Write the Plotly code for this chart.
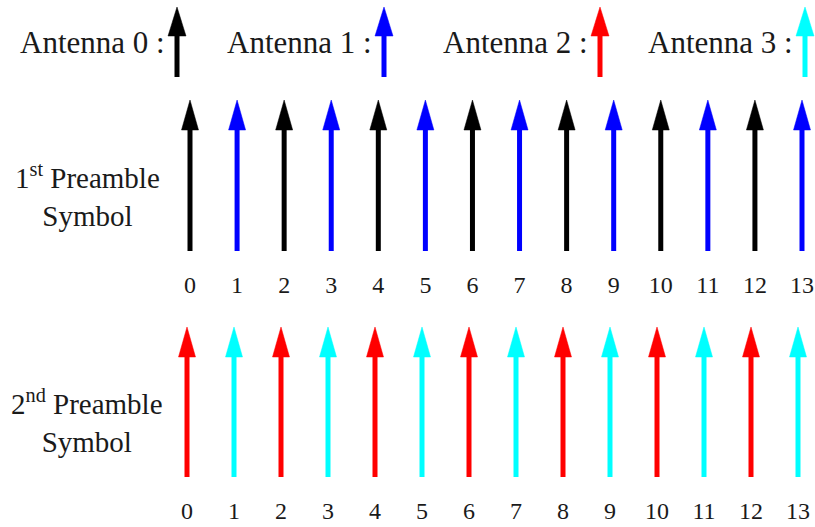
import plotly.graph_objects as go

# ---- data ----
subcarriers = list(range(14))
row1_antennas = [0, 1, 0, 1, 0, 1, 0, 1, 0, 1, 0, 1, 0, 1]
row2_antennas = [2, 3, 2, 3, 2, 3, 2, 3, 2, 3, 2, 3, 2, 3]
amplitude = [1.0] * 14
antenna_names = ["Antenna 0 :", "Antenna 1 :", "Antenna 2 :", "Antenna 3 :"]
antenna_colors = ["#000000", "#0000FF", "#FF0000", "#00FFFF"]
row_labels = ["1<sup>st</sup> Preamble<br>Symbol", "2<sup>nd</sup> Preamble<br>Symbol"]

W, H = 815, 527
FONT = "Liberation Serif"
TXT = "#1a1a1a"

# pixel layout of each row (style only)
rows = [
    dict(x0=190, x13=802, base=251, length=151, ax="x", ay="y"),
    dict(x0=187, x13=798, base=477, length=150, ax="x2", ay="y2"),
]

fig = go.Figure()
layout_axes = {}
HEAD_LEN_PX = 30
HEAD_HALF_PX = 8.5

for r, (row, ants) in enumerate(zip(rows, [row1_antennas, row2_antennas])):
    s = (row["x13"] - row["x0"]) / 13.0
    xl = -row["x0"] / s
    xr = xl + W / s
    yl = (row["base"] - H) / row["length"]
    yh = row["base"] / row["length"]
    xname = "xaxis" if r == 0 else "xaxis2"
    yname = "yaxis" if r == 0 else "yaxis2"
    xa = dict(range=[xl, xr], visible=False, fixedrange=True)
    ya = dict(range=[yl, yh], visible=False, fixedrange=True)
    if r == 1:
        xa["overlaying"] = "x"
        ya["overlaying"] = "y"
        ya["anchor"] = "x2"
        xa["anchor"] = "y2"
    layout_axes[xname] = xa
    layout_axes[yname] = ya

    head_len = HEAD_LEN_PX / row["length"]
    head_half = HEAD_HALF_PX / s
    for ant in sorted(set(ants)):
        col = antenna_colors[ant]
        sx, sy, hx, hy = [], [], [], []
        for i, a, amp in zip(subcarriers, ants, amplitude):
            if a != ant:
                continue
            sx += [i, i, None]
            sy += [0, amp - head_len + 0.01, None]
            hx += [i - head_half, i + head_half, i, i - head_half, None]
            hy += [amp - head_len, amp - head_len, amp, amp - head_len, None]
        fig.add_trace(go.Scatter(x=sx, y=sy, xaxis=row["ax"], yaxis=row["ay"], mode="lines",
                                 line=dict(color=col, width=5), hoverinfo="skip", showlegend=False))
        fig.add_trace(go.Scatter(x=hx, y=hy, xaxis=row["ax"], yaxis=row["ay"], mode="lines",
                                 fill="toself", fillcolor=col, line=dict(color=col, width=0.5),
                                 hoverinfo="skip", showlegend=False))
    # index labels
    lab_y = -36 / row["length"]
    fig.add_trace(go.Scatter(x=subcarriers, y=[lab_y] * 14, xaxis=row["ax"], yaxis=row["ay"],
                             mode="text", text=[str(i) for i in subcarriers],
                             textfont=dict(family=FONT, size=24, color=TXT), cliponaxis=False,
                             hoverinfo="skip", showlegend=False))

annotations = []
shapes = []
# legend
legend_arrow_px = [177, 384, 600, 805]
for name, col, xp in zip(antenna_names, antenna_colors, legend_arrow_px):
    annotations.append(dict(text=name, x=(xp - 10) / W, y=1 - 42 / H, xref="paper", yref="paper",
                            xanchor="right", yanchor="middle", showarrow=False,
                            font=dict(family=FONT, size=31, color=TXT)))
    shapes.append(dict(type="line", xref="paper", yref="paper",
                       x0=xp / W, x1=xp / W, y0=1 - 77 / H, y1=1 - 34 / H,
                       line=dict(color=col, width=5)))
    shapes.append(dict(type="path", xref="paper", yref="paper",
                       path=f"M {(xp-9)/W} {1-36/H} L {(xp+9)/W} {1-36/H} L {xp/W} {1-7/H} Z",
                       fillcolor=col, line=dict(color=col, width=0.5)))

# row labels
for lab, yc in zip(row_labels, [195, 421]):
    annotations.append(dict(text=lab, x=87 / W, y=1 - yc / H, xref="paper", yref="paper",
                            xanchor="center", yanchor="middle", showarrow=False, align="center",
                            font=dict(family=FONT, size=29, color=TXT)))

fig.update_layout(width=W, height=H, margin=dict(l=0, r=0, t=0, b=0),
                  paper_bgcolor="white", plot_bgcolor="white",
                  annotations=annotations, shapes=shapes, **layout_axes)
fig.write_html("out.html", config={"displayModeBar": False},
               post_script="document.body.style.margin='0';document.body.style.overflow='hidden';")
